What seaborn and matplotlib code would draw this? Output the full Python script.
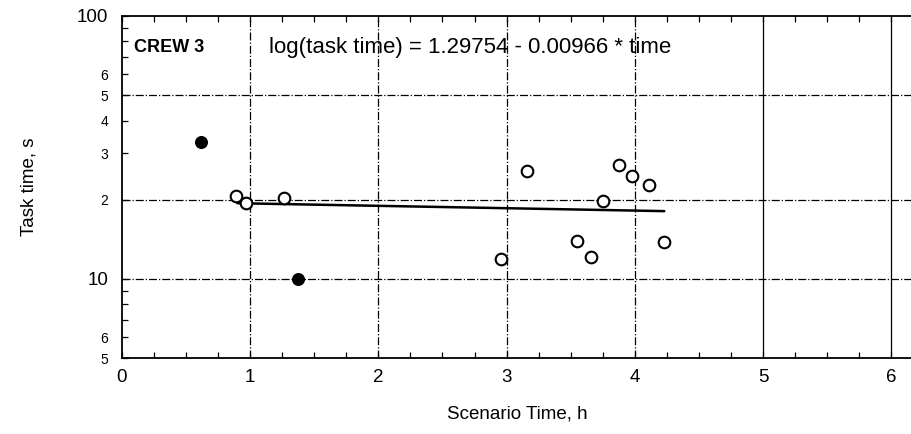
import numpy as np
import pandas as pd
import matplotlib
matplotlib.use("Agg")
import matplotlib.pyplot as plt
import seaborn as sns
from matplotlib.ticker import FixedLocator, NullFormatter

# data
open_x = [0.89, 0.97, 1.26, 2.96, 3.16, 3.55, 3.66, 3.75, 3.88, 3.98, 4.11, 4.23]
open_y = [20.7, 19.5, 20.3, 11.9, 25.8, 13.9, 12.1, 19.7, 27.2, 24.7, 22.8, 13.8]
filled_x = [0.62, 1.37]
filled_y = [33.2, 10.0]
fit_x = [0.90, 4.23]
fit_y = [19.4, 18.1]

ytick_vals = [5, 6, 10, 20, 30, 40, 50, 60, 100]
ytick_text = ["5", "6", "10", "2", "3", "4", "5", "6", "100"]
xtick_vals = [0, 1, 2, 3, 4, 5, 6]

sns.set_style("ticks")
plt.rcParams["font.family"] = ["Liberation Sans", "DejaVu Sans"]
plt.rcParams.update({"text.color": "black", "axes.labelcolor": "black",
                     "xtick.color": "black", "ytick.color": "black"})

df_open = pd.DataFrame({"time": open_x, "task": open_y})
df_filled = pd.DataFrame({"time": filled_x, "task": filled_y})
df_fit = pd.DataFrame({"time": fit_x, "task": fit_y})

fig = plt.figure(figsize=(9.12, 4.34), dpi=100)
ax = fig.add_axes([122 / 912, 76 / 434, 790 / 912, 342 / 434])

ax.set_yscale("log")
ax.set_xlim(0, 790 / 128.2)
ax.set_ylim(5, 100)

# grid
for gx in [1, 2, 3, 4]:
    ax.axvline(gx, color="black", lw=0.9, ls="-.", zorder=1)
for gx in [5, 6]:
    ax.axvline(gx, color="black", lw=0.9, ls="-", zorder=1)
for gy in [10, 20, 50]:
    ax.axhline(gy, color="black", lw=0.9, ls="-.", zorder=1)

sns.lineplot(data=df_fit, x="time", y="task", color="black", lw=1.8, ax=ax, zorder=2)
sns.scatterplot(data=df_open, x="time", y="task", marker="o", s=70,
                facecolor="white", edgecolor="black", linewidth=1.5, ax=ax, zorder=3)
sns.scatterplot(data=df_filled, x="time", y="task", marker="o", s=70,
                color="black", edgecolor="black", linewidth=1, ax=ax, zorder=3)

ax.yaxis.set_major_locator(FixedLocator(ytick_vals))
ax.yaxis.set_minor_locator(FixedLocator([7, 8, 9, 70, 80, 90]))
ax.yaxis.set_minor_formatter(NullFormatter())
ax.set_yticklabels(ytick_text)
for lab, v in zip(ax.get_yticklabels(), ytick_vals):
    lab.set_fontsize(13.5 if v in (10, 100) else 10)

ax.set_xticks(xtick_vals)
ax.set_xticklabels([str(v) for v in xtick_vals], fontsize=13.5)
ax.xaxis.set_minor_locator(FixedLocator(np.arange(0.25, 6.2, 0.25)))

ax.tick_params(axis="x", which="both", direction="in", top=True, length=4, width=0.9)
ax.tick_params(axis="x", which="major", pad=8)
ax.tick_params(axis="y", which="both", direction="in", length=4, width=0.9, pad=10)

ax.spines["right"].set_visible(False)
for sp in ["left", "bottom", "top"]:
    ax.spines[sp].set_linewidth(1.3)
    ax.spines[sp].set_color("black")

ax.set_xlabel("Scenario Time, h", fontsize=13.5, labelpad=14)
ax.set_ylabel("Task time, s", fontsize=13.5, labelpad=28)

ax.text(0.09, 76, "CREW 3", fontsize=13, fontweight="bold", va="center")
ax.text(1.15, 76, "log(task time) = 1.29754 - 0.00966 * time", fontsize=16, va="center")

fig.savefig("out.png", dpi=100)
